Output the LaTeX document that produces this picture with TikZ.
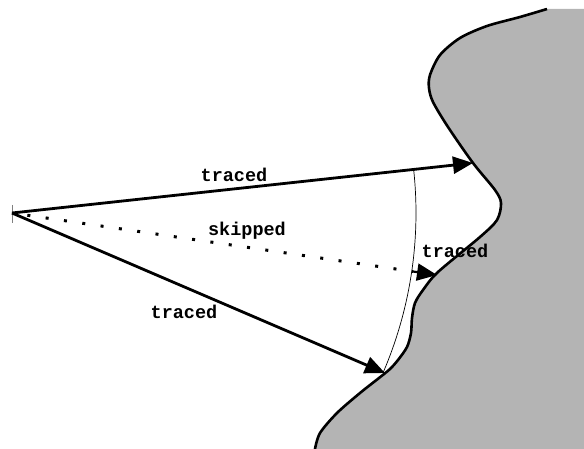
\documentclass[tikz,border=0pt]{standalone}
\usepackage{fontspec}
\newfontfamily\raylabelfont{Liberation Mono}
\usepackage{tikz}
\usetikzlibrary{arrows.meta}

\definecolor{wallgray}{RGB}{180,180,180}

\tikzset{
  ray/.style={line width=2.8pt, -{Triangle[length=20pt,width=17pt]}},
  skipray/.style={line width=3pt, dash pattern=on 3pt off 15.5pt, dash phase=3pt},
  wallline/.style={line width=2.6pt},
  raylabel/.style={font=\raylabelfont\bfseries\fontsize{18.5}{20}\selectfont, anchor=base, inner sep=0pt},
}

\def\wallpts{(315,449) (320,433) (337,413) (360,393) (379,378) (390,369) (398,360)
  (407,347) (411,333) (412,318) (415,303) (423,290) (438,272) (480,237) (497,220)
  (501,203) (495,190) (473,163) (448,127) (433,102) (429,88) (430,75) (440,55)
  (460,38) (487,26) (520,17) (547,9)}

\begin{document}
\begin{tikzpicture}[x=1pt,y=-1pt]
  \useasboundingbox (0,0) rectangle (584,449);

  % Draw the wall (gray region)
  \fill[wallgray] plot[smooth] coordinates {\wallpts} -- (584,9) -- (584,449) -- cycle;
  \draw[wallline] plot[smooth] coordinates {\wallpts};

  % Source point and hit points
  \coordinate (src) at (12,213);
  \coordinate (hitTop) at (473,163);
  \coordinate (hitMid) at (437,275);
  \coordinate (skipEnd) at (413,271.5);
  \coordinate (hitLow) at (385,373);

  % Small tick at the source
  \draw[gray, line width=0.8pt] (src) ++(0,-8) -- ++(0,18);

  % Traced rays
  \draw[ray] (src) -- (hitTop);
  \draw[ray] (src) -- (hitLow);

  % Skipped ray (dotted), then its short solid end
  \draw[skipray] (src) -- (skipEnd);
  \draw[ray, line width=2.2pt] (skipEnd) -- (hitMid);

  % Arc of equal distance
  \draw[line width=0.7pt] (src) ++(-6.19:404) arc[start angle=-6.19, end angle=23.2, radius=404];

  % Labels
  \node[raylabel] (lblTop) at (234,182) {traced};
  \node[raylabel] (lblSkip) at (247,236) {skipped};
  \node[raylabel] (lblMid) at (455,258) {traced};
  \node[raylabel] (lblLow) at (184,318) {traced};
\end{tikzpicture}
\end{document}
